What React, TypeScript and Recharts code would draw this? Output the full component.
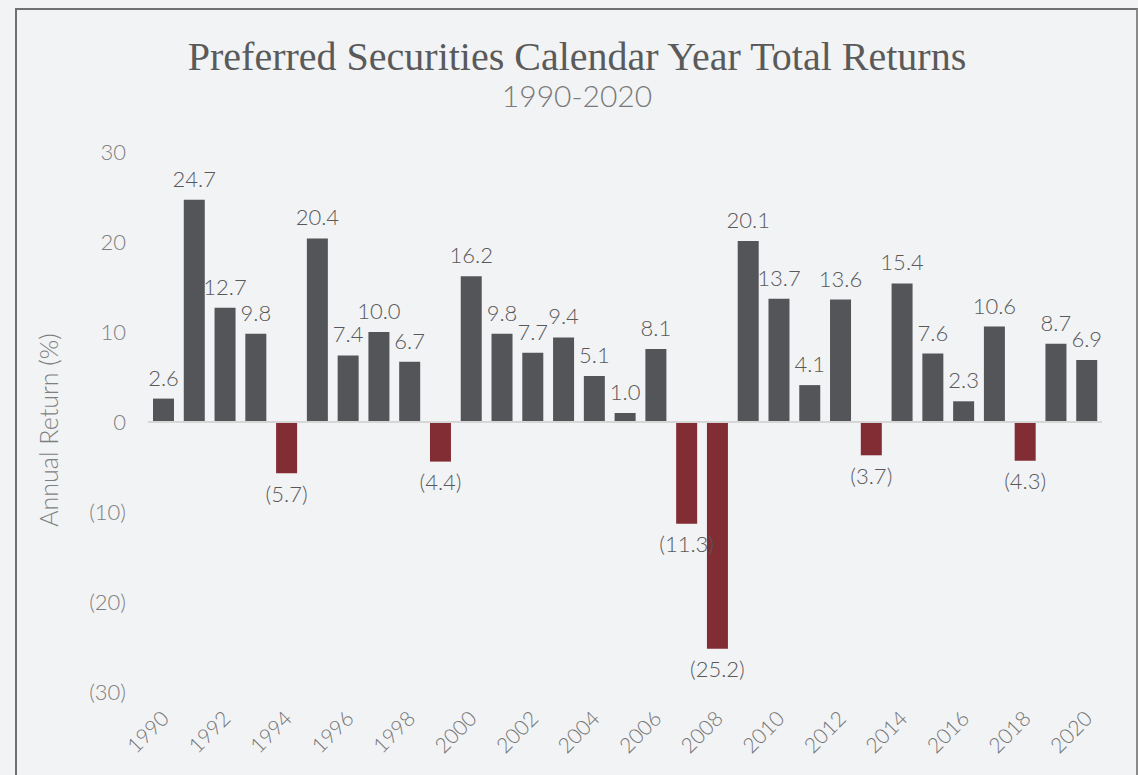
import React from 'react';
import { BarChart, Bar, XAxis, YAxis, ReferenceLine, Cell, LabelList } from 'recharts';

const years = [
  '1990', '1991', '1992', '1993', '1994', '1995', '1996', '1997', '1998', '1999',
  '2000', '2001', '2002', '2003', '2004', '2005', '2006', '2007', '2008', '2009',
  '2010', '2011', '2012', '2013', '2014', '2015', '2016', '2017', '2018', '2019', '2020',
];
const returns = [
  2.6, 24.7, 12.7, 9.8, -5.7, 20.4, 7.4, 10.0, 6.7, -4.4,
  16.2, 9.8, 7.7, 9.4, 5.1, 1.0, 8.1, -11.3, -25.2, 20.1,
  13.7, 4.1, 13.6, -3.7, 15.4, 7.6, 2.3, 10.6, -4.3, 8.7, 6.9,
];
const yTicks = [-30, -20, -10, 0, 10, 20, 30];

const data = years.map((year, i) => ({ year, value: returns[i] }));

const GRAY = '#545559';
const RED = '#822d33';
const LABEL_FONT = 'Lato, "Open Sans", sans-serif';

const fmt = (v: number, digits: number) =>
  v < 0 ? `(${Math.abs(v).toFixed(digits)})` : v.toFixed(digits);

const XTick = (props: any) => {
  const { x, y, payload } = props;
  return (
    <g transform={`translate(${x + 7},${y + 20})`}>
      <text
        x={0}
        y={0}
        textAnchor="end"
        transform="rotate(-45)"
        fill="#747474"
        fontSize={21}
        fontWeight={300}
        fontFamily={LABEL_FONT}
      >
        {payload.value}
      </text>
    </g>
  );
};

export default function App() {
  return (
    <div style={{ position: 'relative', width: 1138, height: 775, background: '#f2f3f5', overflow: 'hidden' }}>
      <style>{'body{margin:0;}'}</style>
      <div
        style={{
          position: 'absolute',
          left: 15,
          top: 8,
          width: 1119,
          height: 800,
          borderTop: '2px solid #707070',
          borderLeft: '2px solid #707070',
          borderRight: '2px solid #8a8a8a',
        }}
      />
      <div
        style={{
          position: 'absolute',
          top: 33,
          left: 0,
          width: 1154,
          textAlign: 'center',
          fontFamily: '"Liberation Serif", serif',
          fontSize: 40,
          color: '#5a5a5a',
          lineHeight: '48px',
        }}
      >
        Preferred Securities Calendar Year Total Returns
      </div>
      <div
        style={{
          position: 'absolute',
          top: 76,
          left: 0,
          width: 1154,
          textAlign: 'center',
          fontFamily: LABEL_FONT,
          fontWeight: 300,
          fontSize: 30,
          color: '#7a7a7a',
          lineHeight: '38px',
        }}
      >
        1990-2020
      </div>
      <div style={{ position: 'absolute', left: 0, top: 0 }}>
        <BarChart
          width={1138}
          height={775}
          data={data}
          margin={{ top: 152, right: 36, bottom: 0, left: 0 }}
          barSize={21}
        >
          <YAxis
            width={148}
            domain={[-30, 30]}
            ticks={yTicks}
            tickFormatter={(v: number) => fmt(v, 0)}
            axisLine={false}
            tickLine={false}
            tickMargin={16}
            tick={{ fill: '#7f7f7f', fontSize: 22, fontWeight: 300, fontFamily: LABEL_FONT }}
            label={{
              value: 'Annual Return (%)',
              angle: -90,
              position: 'insideLeft',
              dx: 44,
              dy: 8,
              style: { fill: '#7f7f7f', fontSize: 25, fontWeight: 300, fontFamily: LABEL_FONT, textAnchor: 'middle' },
            }}
          />
          <XAxis
            dataKey="year"
            height={83}
            interval={1}
            axisLine={false}
            tickLine={false}
            tick={<XTick />}
          />
          <ReferenceLine y={0} stroke="#d6d6d6" strokeWidth={2} />
          <Bar dataKey="value" isAnimationActive={false}>
            {data.map((d) => (
              <Cell key={d.year} fill={d.value < 0 ? RED : GRAY} />
            ))}
            <LabelList
              dataKey="value"
              position="top"
              offset={13}
              formatter={(v: any) => fmt(Number(v), 1)}
              style={{ fill: '#595959', fontSize: 22, fontWeight: 300, fontFamily: LABEL_FONT }}
            />
          </Bar>
        </BarChart>
      </div>
    </div>
  );
}
